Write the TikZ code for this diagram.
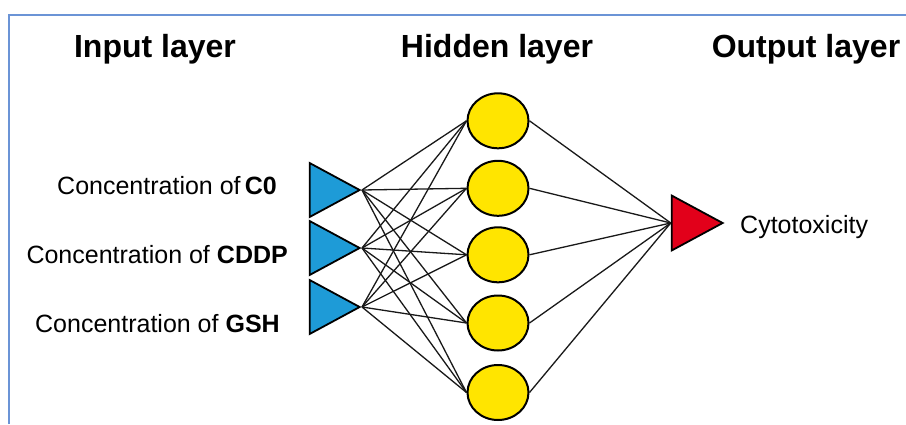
\documentclass[tikz,border=0pt]{standalone}
\usepackage{fontspec}
\setmainfont{Liberation Sans}
\usetikzlibrary{shapes.geometric}
\definecolor{frameblue}{HTML}{6B94D6}
\definecolor{inblue}{HTML}{1E9BD7}
\definecolor{outred}{HTML}{E2001A}
\definecolor{hidyellow}{HTML}{FFE500}
\tikzset{
  title/.style={font=\fontsize{32}{36}\selectfont\bfseries, anchor=base, inner sep=0},
  lbl/.style={font=\fontsize{25}{30}\selectfont, inner sep=0},
  inneuron/.style={isosceles triangle, isosceles triangle stretches, minimum width=54pt, minimum height=50pt, inner sep=0, draw=black, line width=1.8pt, fill=inblue, anchor=apex},
  outneuron/.style={isosceles triangle, isosceles triangle stretches, minimum width=55pt, minimum height=51pt, inner sep=0, draw=black, line width=1.8pt, fill=outred, anchor=apex},
  hidneuron/.style={ellipse, minimum width=61pt, minimum height=55pt, inner sep=0, draw=black, line width=2pt, fill=hidyellow},
  link/.style={draw=black!90, line width=1.3pt},
  frame/.style={draw=frameblue, line width=2pt}
}
\begin{document}
\begin{tikzpicture}[x=1pt,y=-1pt]
\useasboundingbox (0,0) rectangle (906,424);
\fill[white] (0,0) rectangle (906,424);
\coordinate (fa) at (9,424);
\coordinate (fb) at (9,15);
\coordinate (fc) at (906,15);
\draw[frame] (fa) -- (fb) -- (fc);

\node[title] (tin) at (155,57) {Input layer};
\node[title] (thid) at (497,57) {Hidden layer};
\node[title] (tout) at (806,57) {Output layer};

\node[lbl, anchor=base east] (l1) at (277,194) {Concentration of\,\textbf{C0}};
\node[lbl, anchor=base east] (l2) at (288,263) {Concentration of \textbf{CDDP}};
\node[lbl, anchor=base east] (l3) at (280,332) {Concentration of \textbf{GSH}};
\node[lbl, anchor=base west] (lo) at (740,233) {Cytotoxicity};

\node[inneuron] (i1) at (362,190) {};
\node[inneuron] (i2) at (362,248) {};
\node[inneuron] (i3) at (362,307) {};
\node[outneuron] (o) at (725,223) {};

\foreach \i/\y in {1/120.8,2/188.3,3/254.8,4/323,5/392.5}
  \node[hidneuron] (h\i) at (498,\y) {};

\foreach \i in {1,...,5}{
  \foreach \j in {1,2,3}
    \path[link] (i\j.apex) -- (h\i.west);
  \path[link] (h\i.east) -- (o.west);
}
\end{tikzpicture}
\end{document}
